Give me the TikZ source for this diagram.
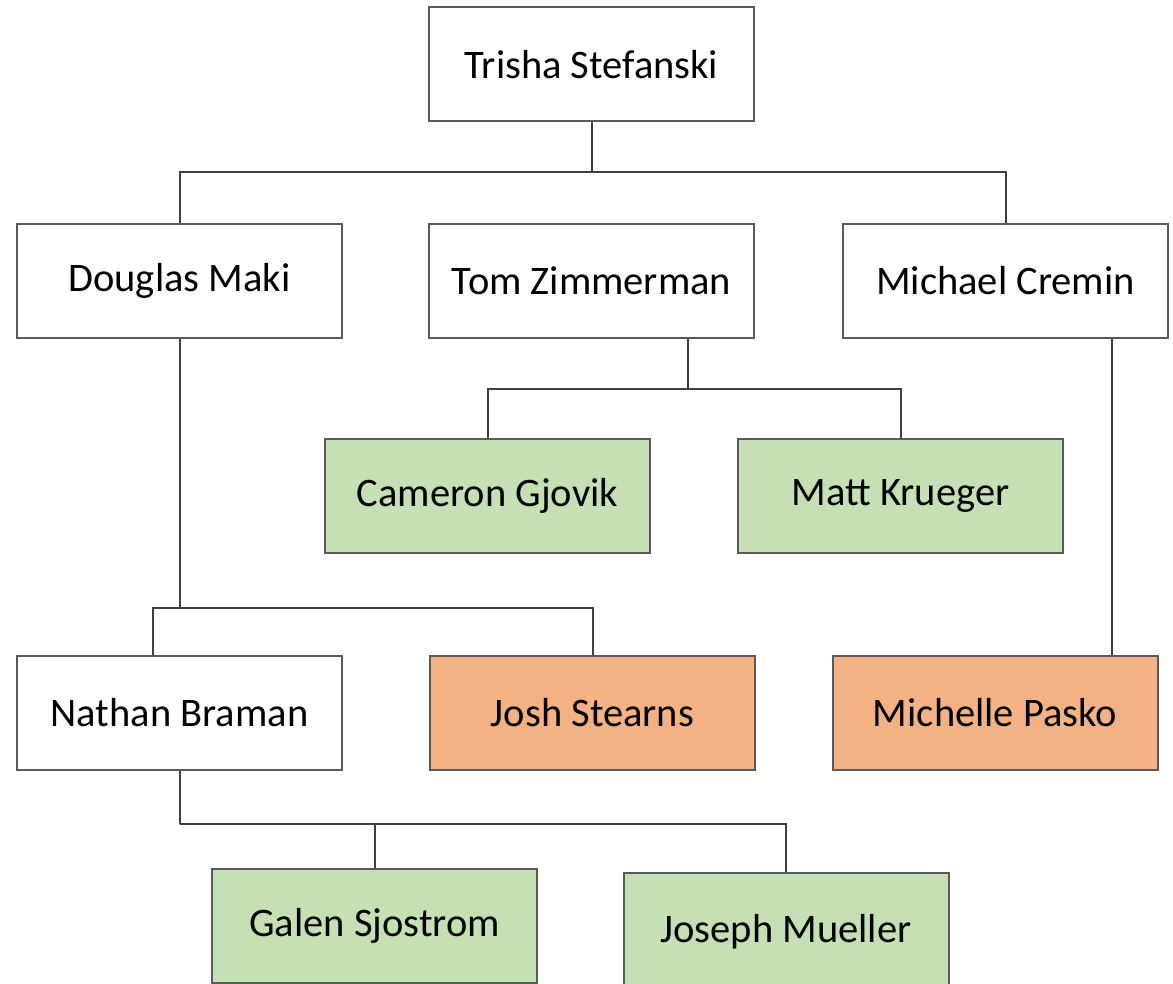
\documentclass[tikz,border=0pt]{standalone}
\usepackage{fontspec}
\setmainfont{Carlito}
\definecolor{boxline}{HTML}{5A5A5A}
\definecolor{conn}{HTML}{404040}
\definecolor{greenfill}{HTML}{C5E0B4}
\definecolor{orangefill}{HTML}{F4B183}
\begin{document}
\begin{tikzpicture}[x=1pt,y=-1pt,
  person/.style={draw=boxline,line width=2pt,fill=white,minimum width=325pt,minimum height=114pt,inner sep=0pt,
    font=\fontsize{40.5}{46}\selectfont},
  greenbox/.style={person,fill=greenfill},
  orangebox/.style={person,fill=orangefill},
  link/.style={draw=conn,line width=2pt}]
\useasboundingbox (0,0) rectangle (1173,984);
\node[person] (trisha) at (591.5,64.5) {Trisha Stefanski};
\node[person] (douglas) at (179.5,281) {Douglas Maki};
\node[person] (tom) at (591.5,281) {Tom Zimmerman};
\node[person] (michael) at (1005.5,281) {Michael Cremin};
\node[greenbox] (cameron) at (487.5,496) {Cameron Gjovik};
\node[greenbox] (matt) at (900.5,496) {Matt Krueger};
\node[person] (nathan) at (179.5,713) {Nathan Braman};
\node[orangebox] (josh) at (592.5,713) {Josh Stearns};
\node[orangebox] (michelle) at (995,713) {Michelle Pasko};
\node[greenbox] (galen) at (374.5,925.5) {Galen Sjostrom};
\node[greenbox,minimum height=118pt] (joseph) at (786,932) {Joseph Mueller};
\coordinate (j1) at (trisha.south |- 0,172);
\coordinate (j2) at (688,389);
\coordinate (j3) at (douglas.south |- 0,608);
\coordinate (j4) at (nathan.south |- 0,824);
\draw[link] (trisha.south) -- (j1);
\draw[link] (douglas.north) |- (j1) -| (michael.north);
\draw[link] (j2 |- tom.south) -- (j2);
\draw[link] (cameron.north) |- (j2) -| (matt.north);
\draw[link] (douglas.south) -- (j3);
\draw[link] ([xshift=-26.5pt]nathan.north) |- (j3) -| (josh.north);
\draw[link] ([xshift=106.5pt]michael.south) -- ([xshift=106.5pt]michael.south |- michelle.north);
\draw[link] (nathan.south) -- (j4);
\draw[link] (galen.north) |- (j4) -| (joseph.north);
\end{tikzpicture}
\end{document}
